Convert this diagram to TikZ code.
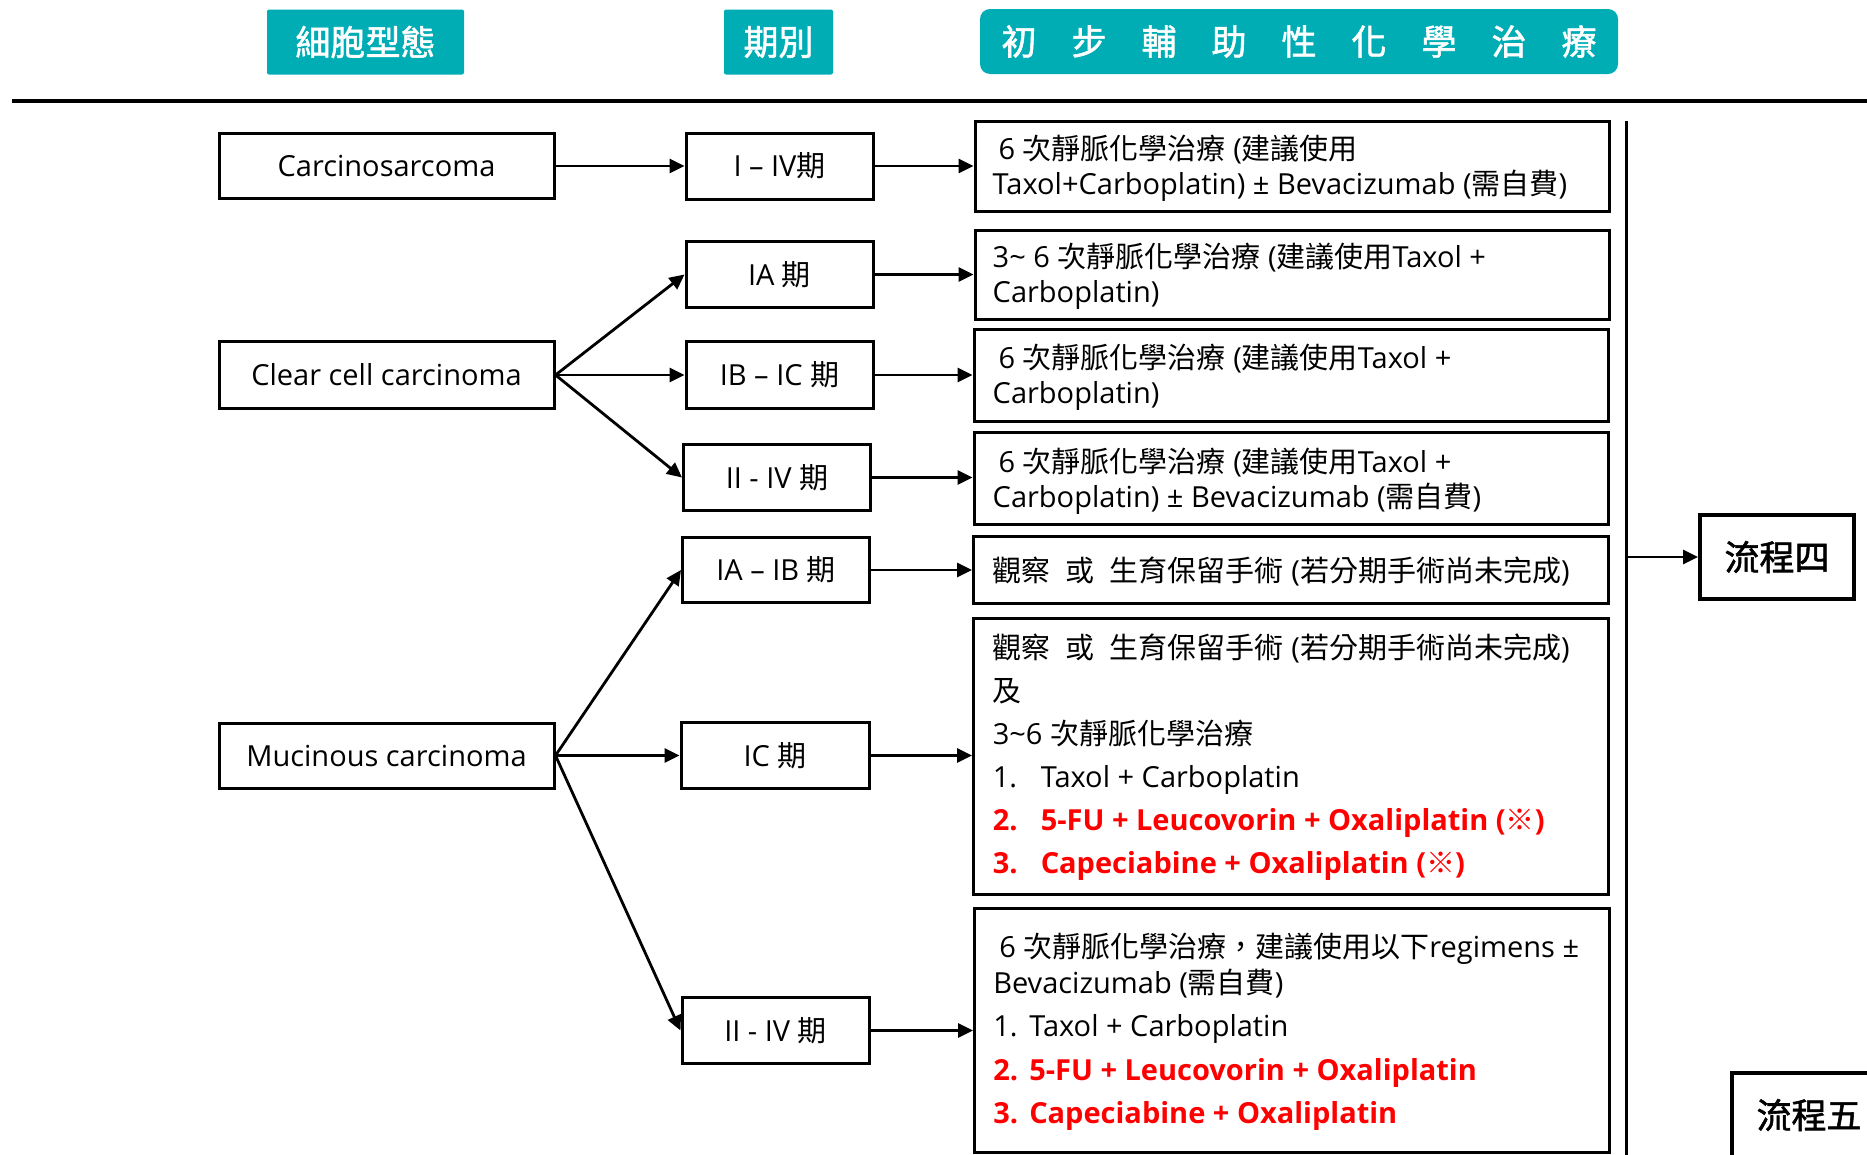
\documentclass[tikz,border=0pt]{standalone}
\usepackage{fontspec}
\setmainfont{Open Sans}
\newfontfamily\cjk{Noto Sans CJK TC}
\newfontfamily\cjkfb{Noto Sans CJK TC}[FakeBold=1.6]
\newfontfamily\latinf{Open Sans}
\usetikzlibrary{arrows.meta}
% automatic switch to the CJK font for CJK characters
\def\cjkcur{\cjk}
\newXeTeXintercharclass\cjkcls
\newcount\cjkc
\cjkc="4E00
\loop\XeTeXcharclass\cjkc=\cjkcls\advance\cjkc by 1\relax\ifnum\cjkc<"A000\repeat
\cjkc="3000
\loop\XeTeXcharclass\cjkc=\cjkcls\advance\cjkc by 1\relax\ifnum\cjkc<"3040\repeat
\cjkc="FF00
\loop\XeTeXcharclass\cjkc=\cjkcls\advance\cjkc by 1\relax\ifnum\cjkc<"FFF0\repeat
\XeTeXcharclass"203B=\cjkcls
\XeTeXinterchartoks 0 \cjkcls = {\cjkcur}
\XeTeXinterchartoks 4095 \cjkcls = {\cjkcur}
\XeTeXinterchartoks \cjkcls 0 = {\latinf}
\XeTeXinterchartoks \cjkcls 4095 = {\latinf}
\XeTeXinterchartokenstate=1
\definecolor{tealhdr}{RGB}{0,173,181}
\definecolor{redtxt}{RGB}{255,0,0}
\begin{document}
\begin{tikzpicture}[x=1pt,y=-1pt,
  every node/.style={font=\fontsize{29}{35}\selectfont},
  box/.style={draw=black, line width=3pt, inner sep=0pt},
  hdr/.style={fill=tealhdr, text=white, inner sep=0pt, rounded corners=2pt,
    font=\fontsize{35}{40}\selectfont\def\cjkcur{\cjkfb}},
  arr/.style={-{Triangle[length=15pt,width=14pt]}, line width=2.8pt},
  ttext/.style={anchor=west, align=left, inner sep=0pt},
  flow/.style={draw=black, line width=4pt, inner sep=0pt,
    font=\fontsize{35}{40}\selectfont\def\cjkcur{\cjkfb}}]
\useasboundingbox (0,0) rectangle (1867,1154);
\clip (0,0) rectangle (1867,1154);
% headers
\node[hdr, minimum width=197pt, minimum height=65pt] (h1) at (365.5,42) {細胞型態};
\node[hdr, minimum width=109pt, minimum height=65pt] (h2) at (778.5,42) {期別};
\node[hdr, rounded corners=10pt, minimum width=638pt, minimum height=65pt] (h3) at (1299,41.5)
  {初\quad 步\quad 輔\quad 助\quad 性\quad 化\quad 學\quad 治\quad 療};
\coordinate (hl) at (12,101);
\coordinate (hr) at (1867,101);
\draw[line width=4pt] (hl) -- (hr);
% cell types
\node[box, minimum width=335pt, minimum height=65pt] (cs) at (386.5,166) {Carcinosarcoma};
\node[box, minimum width=335pt, minimum height=67pt] (cc) at (386.5,375) {Clear cell carcinoma};
\node[box, minimum width=335pt, minimum height=65pt] (mu) at (386.5,755.5) {Mucinous carcinoma};
% stages
\node[box, minimum width=187pt, minimum height=66pt] (m1) at (779.5,166) {I – IV期};
\node[box, minimum width=187pt, minimum height=65.5pt] (m2) at (779.5,274.5) {IA 期};
\node[box, minimum width=187pt, minimum height=67pt] (m3) at (779.5,375) {IB – IC 期};
\node[box, minimum width=187pt, minimum height=65.5pt] (m4) at (777,477.5) {II - IV 期};
\node[box, minimum width=187pt, minimum height=65.5pt] (m5) at (776,570) {IA – IB 期};
\node[box, minimum width=188pt, minimum height=65.5pt] (m6) at (775,755.5) {IC 期};
\node[box, minimum width=187pt, minimum height=65.5pt] (m7) at (775.5,1030.5) {II - IV 期};
% treatments
\node[box, minimum width=634pt, minimum height=90pt] (t1) at (1292,166.7) {};
\node[box, minimum width=634pt, minimum height=89pt] (t2) at (1292,274.5) {};
\node[box, minimum width=634pt, minimum height=92pt] (t3) at (1291,375.6) {};
\node[box, minimum width=634pt, minimum height=92pt] (t4) at (1291,478.9) {};
\node[box, minimum width=634.5pt, minimum height=66.7pt] (t5) at (1290.8,570.3) {};
\node[box, minimum width=634.5pt, minimum height=275.7pt] (t6) at (1290.8,756.2) {};
\node[box, minimum width=634.5pt, minimum height=243.7pt] (t7) at (1291.8,1030.2) {};
\node[ttext] (t1x) at ([xshift=19pt,yshift=-2pt]t1.west)
  {\hspace{6pt}6 次靜脈化學治療 (建議使用\\Taxol+Carboplatin) ± Bevacizumab (需自費)};
\node[ttext] (t2x) at ([xshift=19pt,yshift=-2pt]t2.west)
  {3\textasciitilde\ 6 次靜脈化學治療 (建議使用Taxol +\\Carboplatin)};
\node[ttext] (t3x) at ([xshift=20pt,yshift=-2pt]t3.west)
  {\hspace{6pt}6 次靜脈化學治療 (建議使用Taxol +\\Carboplatin)};
\node[ttext] (t4x) at ([xshift=20pt,yshift=-2pt]t4.west)
  {\hspace{6pt}6 次靜脈化學治療 (建議使用Taxol +\\Carboplatin) ± Bevacizumab (需自費)};
\node[ttext] (t5x) at ([xshift=20.5pt,yshift=-1pt]t5.west)
  {觀察\ \ 或\ \ 生育保留手術 (若分期手術尚未完成)};
\node[ttext, font=\fontsize{29}{43}\selectfont] (t6x) at ([xshift=20.5pt,yshift=-1pt]t6.west)
  {觀察\ \ 或\ \ 生育保留手術 (若分期手術尚未完成)\\
   及\\
   3\textasciitilde 6 次靜脈化學治療\\
   \makebox[48pt][l]{1.}Taxol + Carboplatin\\
   {\color{redtxt}\bfseries\makebox[48pt][l]{2.}5-FU + Leucovorin + Oxaliplatin (※)}\\
   {\color{redtxt}\bfseries\makebox[48pt][l]{3.}Capeciabine + Oxaliplatin (※)}};
\node[ttext, font=\fontsize{29}{43.5}\selectfont] (t7x) at ([xshift=20pt,yshift=-2pt]t7.west)
  {\hspace{6pt}6 次靜脈化學治療，建議使用以下regimens ±\\[-8pt]
   Bevacizumab (需自費)\\
   \makebox[36pt][l]{1.}Taxol + Carboplatin\\
   {\color{redtxt}\bfseries\makebox[36pt][l]{2.}5-FU + Leucovorin + Oxaliplatin}\\
   {\color{redtxt}\bfseries\makebox[36pt][l]{3.}Capeciabine + Oxaliplatin}};
% flow boxes
\node[flow, minimum width=154pt, minimum height=84pt] (p4) at (1777,557) {流程四};
\node[flow, minimum width=154pt, minimum height=84pt] (p5) at (1809,1115) {流程五};
\coordinate (vt) at (1626.5,121);
\coordinate (vb) at (1626.5,1160);
\draw[line width=3.2pt] (vt) -- (vb);
\draw[arr] (vt |- p4.west) -- (p4.west);
% connectors
\draw[arr] (cs.east) -- (m1.west);
\draw[arr] (cc.east) -- (m2.west);
\draw[arr] (cc.east) -- (m3.west);
\draw[arr] (cc.east) -- (m4.west);
\draw[arr] (mu.east) -- (m5.west);
\draw[arr] (mu.east) -- (m6.west);
\draw[arr] (mu.east) -- (m7.west);
\draw[arr] (m1.east) -- (m1.east -| t1.west);
\draw[arr] (m2.east) -- (m2.east -| t2.west);
\draw[arr] (m3.east) -- (m3.east -| t3.west);
\draw[arr] (m4.east) -- (m4.east -| t4.west);
\draw[arr] (m5.east) -- (m5.east -| t5.west);
\draw[arr] (m6.east) -- (m6.east -| t6.west);
\draw[arr] (m7.east) -- (m7.east -| t7.west);
\end{tikzpicture}
\end{document}
